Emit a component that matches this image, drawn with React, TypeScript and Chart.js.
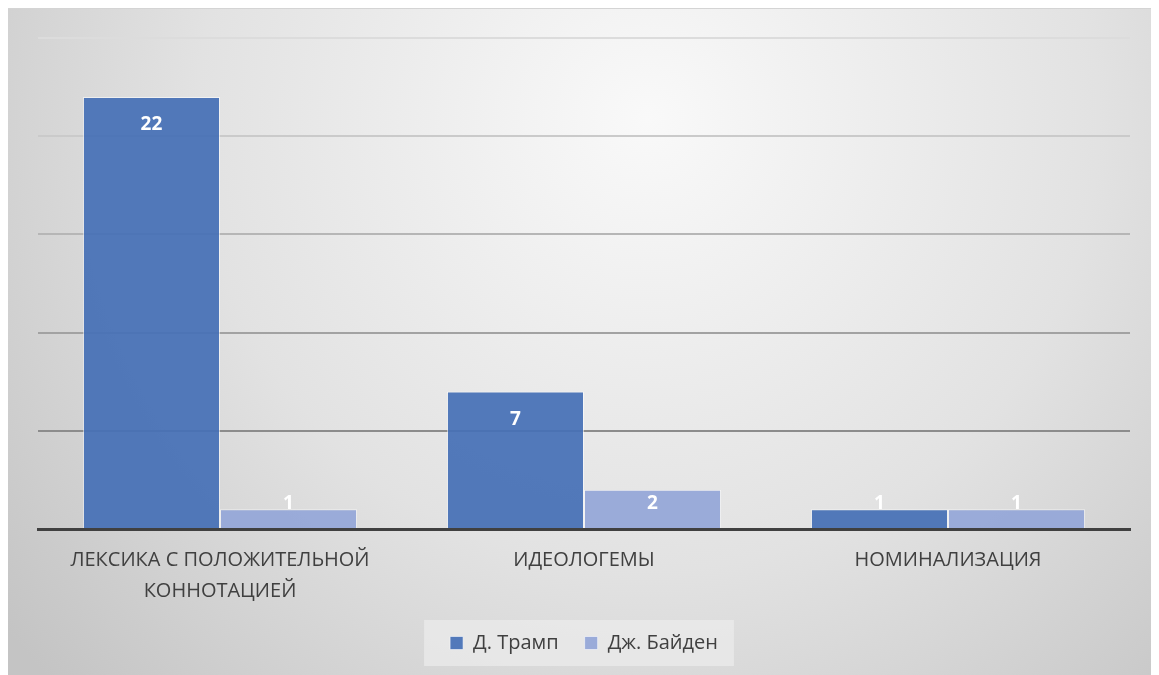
import React, { useEffect, useRef } from "react";
import { Chart, registerables } from "chart.js";

Chart.register(...registerables);

const categories: (string | string[])[] = [
  ["ЛЕКСИКА С ПОЛОЖИТЕЛЬНОЙ", "КОННОТАЦИЕЙ"],
  "ИДЕОЛОГЕМЫ",
  "НОМИНАЛИЗАЦИЯ",
];
const trampValues = [22, 7, 1];
const bidenValues = [1, 2, 1];
const seriesNames = ["Д. Трамп", "Дж. Байден"];

const FONT = "'Open Sans', 'Noto Sans', sans-serif";

const bgPlugin = {
  id: "bgPlugin",
  beforeDraw(chart: any) {
    const { ctx, width, height } = chart;
    ctx.save();
    const g = ctx.createRadialGradient(640, 110, 0, 640, 110, 820);
    g.addColorStop(0, "#f9f9f9");
    g.addColorStop(0.55, "#e2e2e2");
    g.addColorStop(1, "#c4c4c4");
    ctx.fillStyle = g;
    ctx.fillRect(0, 0, width, height);
    const lg = chart.legend;
    if (lg && lg.legendHitBoxes && lg.legendHitBoxes.length) {
      const hb = lg.legendHitBoxes;
      const x0 = hb[0].left - 26;
      const x1 = hb[hb.length - 1].left + hb[hb.length - 1].width + 16;
      const yc = hb[0].top + hb[0].height / 2;
      ctx.fillStyle = "rgba(235,235,235,0.75)";
      ctx.fillRect(x0, yc - 23, x1 - x0, 46);
    }
    ctx.restore();
  },
};

const labelPlugin = {
  id: "labelPlugin",
  afterDatasetsDraw(chart: any) {
    const { ctx } = chart;
    ctx.save();
    ctx.fillStyle = "#ffffff";
    ctx.font = `bold 19px ${FONT}`;
    ctx.textAlign = "center";
    ctx.textBaseline = "middle";
    chart.data.datasets.forEach((ds: any, i: number) => {
      const meta = chart.getDatasetMeta(i);
      meta.data.forEach((bar: any, j: number) => {
        const top = bar.y;
        const base = bar.base;
        const y = Math.min(top + 28, base - 24);
        ctx.fillText(String(ds.data[j]), bar.x, y);
      });
    });
    ctx.restore();
  },
};

const gridColors: Record<number, string> = {
  5: "#8c8c8c",
  10: "#a2a2a2",
  15: "#b6b6b6",
  20: "#cacaca",
  25: "#dcdcdc",
};

export default function App() {
  const ref = useRef<HTMLCanvasElement>(null);
  useEffect(() => {
    if (!ref.current) return;
    const chart = new Chart(ref.current, {
      type: "bar",
      data: {
        labels: categories,
        datasets: [
          {
            label: seriesNames[0],
            data: trampValues,
            backgroundColor: "rgba(70,112,182,0.93)",
            borderColor: "rgba(255,255,255,0.55)",
            borderWidth: 1,
            categoryPercentage: 0.753,
            barPercentage: 1,
          },
          {
            label: seriesNames[1],
            data: bidenValues,
            backgroundColor: "rgba(150,168,216,0.95)",
            borderColor: "rgba(255,255,255,0.55)",
            borderWidth: 1,
            categoryPercentage: 0.753,
            barPercentage: 1,
          },
        ],
      },
      options: {
        animation: false,
        responsive: true,
        maintainAspectRatio: false,
        layout: { padding: { left: 30, right: 29, top: 29, bottom: 12 } },
        plugins: {
          tooltip: { enabled: false },
          legend: {
            position: "bottom",
            labels: {
              boxWidth: 13,
              boxHeight: 13,
              padding: 26,
              color: "#404040",
              font: { family: FONT, size: 20 },
            },
          },
        },
        scales: {
          x: {
            grid: { display: false },
            border: { display: true, color: "#404040", width: 3 },
            ticks: {
              color: "#404040",
              padding: 8,
              font: { family: FONT, size: 20, lineHeight: 1.55 },
              maxRotation: 0,
            },
            afterFit(scale: any) {
              scale.height = 78;
            },
          },
          y: {
            min: 0,
            max: 25,
            ticks: { display: false, stepSize: 5 },
            border: { display: false },
            grid: {
              drawTicks: false,
              lineWidth: 2,
              color: (c: any) => gridColors[c.tick?.value] || "transparent",
            },
            afterFit(scale: any) {
              scale.width = 0;
            },
          },
        },
      },
      plugins: [bgPlugin, labelPlugin],
    });
    return () => chart.destroy();
  }, []);
  return (
    <div
      style={{
        width: 1152,
        height: 667,
        position: "relative",
        borderTop: "1px solid #d4d4d4",
        borderLeft: "1px solid #d4d4d4",
        boxSizing: "border-box",
        marginLeft: -1,
      }}
    >
      <canvas ref={ref} />
    </div>
  );
}
